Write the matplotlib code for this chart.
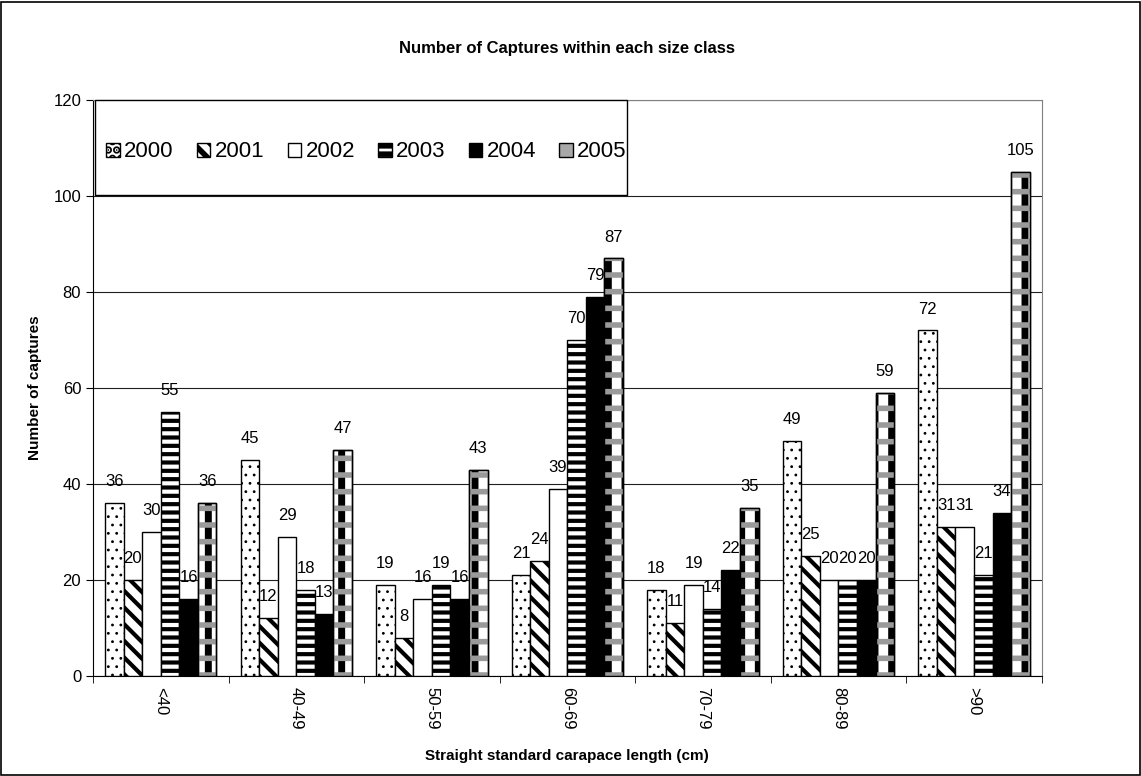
import matplotlib.pyplot as plt
from matplotlib.patches import Patch
import numpy as np

plt.rcParams['font.family'] = ['Liberation Sans', 'DejaVu Sans']

size_classes = ['<40', '40-49', '50-59', '60-69', '70-79', '80-89', '>90']
years = ['2000', '2001', '2002', '2003', '2004', '2005']

c2000 = [36, 45, 19, 21, 18, 49, 72]
c2001 = [20, 12, 8, 24, 11, 25, 31]
c2002 = [30, 29, 16, 39, 19, 20, 31]
c2003 = [55, 18, 19, 70, 14, 20, 21]
c2004 = [16, 13, 16, 79, 22, 20, 34]
c2005 = [36, 47, 43, 87, 35, 59, 105]
series = [c2000, c2001, c2002, c2003, c2004, c2005]

# fill / hatch for each year
styles = [
    dict(facecolor='white', hatch='..', hatch_lw=0.8),
    dict(facecolor='white', hatch='\\\\', hatch_lw=3.0),
    dict(facecolor='white', hatch='', hatch_lw=1.0),
    dict(facecolor='white', hatch='--', hatch_lw=3.0),
    dict(facecolor='black', hatch='', hatch_lw=1.0),
    dict(facecolor='white', hatch='|', hatch_lw=5.0),
]

fig = plt.figure(figsize=(11.41, 7.76), dpi=100)
ax = fig.add_axes([0.0815, 0.129, 0.8315, 0.742])

x = np.arange(len(size_classes))
w = 0.137
offsets = (np.arange(6) - 2.5) * w

handles = []
for i, (vals, off, st, yr) in enumerate(zip(series, offsets, styles, years)):
    plt.rcParams['hatch.linewidth'] = st['hatch_lw']
    b = ax.bar(x + off, vals, w, facecolor=st['facecolor'], edgecolor='black',
               linewidth=1.0, hatch=st['hatch'], label=yr, zorder=3)
    handles.append(b)
    if i == 5:
        # grey checker bands over the black stripe
        plt.rcParams['hatch.linewidth'] = 4.0
        ax.bar(x + off, vals, w, facecolor='none', edgecolor='#9a9a9a',
               linewidth=0, hatch='-', zorder=3.5)
        ax.bar(x + off, vals, w, facecolor='none', edgecolor='black',
               linewidth=1.0, zorder=3.6)
        handles[-1] = Patch(facecolor='#a8a8a8', edgecolor='black', label=yr)
    for rect, v in zip(b, vals):
        ax.annotate(str(v), (rect.get_x() + rect.get_width() / 2, v),
                    xytext=(0, 10), textcoords='offset points',
                    ha='center', va='bottom', fontsize=12, zorder=4)

ax.set_xlim(-0.5, len(size_classes) - 0.5)
ax.set_ylim(0, 120)
ax.set_yticks(range(0, 121, 20))
ax.yaxis.grid(True, color='#202020', linewidth=0.8, zorder=0)
ax.tick_params(axis='y', labelsize=12, direction='out', length=5)

ax.set_xticks(x)
ax.set_xticklabels(size_classes, rotation=270, fontsize=12)
ax.tick_params(axis='x', which='major', length=0, pad=8)
ax.set_xticks(np.arange(len(size_classes) + 1) - 0.5, minor=True)
ax.tick_params(axis='x', which='minor', length=5, direction='out')

for side in ['top', 'right']:
    ax.spines[side].set_color('#808080')

ax.set_xlabel('Straight standard carapace length (cm)', fontsize=11,
              fontweight='bold', labelpad=14)
ax.set_ylabel('Number of captures', fontsize=11, fontweight='bold', labelpad=8)
ax.set_title('Number of Captures within each size class', fontsize=12,
             fontweight='bold', pad=34)

leg = ax.legend(handles=handles, labels=years, loc='center left',
                bbox_to_anchor=(0.014, 0.91), ncol=6,
                fontsize=16, frameon=False, handlelength=0.6, handleheight=0.6,
                handletextpad=0.2, columnspacing=1.05, borderaxespad=0,
                borderpad=0)
leg.set_zorder(6)
ax.add_patch(plt.Rectangle((0.002, 0.835), 0.561, 0.165,
                           transform=ax.transAxes, facecolor='white',
                           edgecolor='black', linewidth=1.0, zorder=5,
                           clip_on=False))

fig.patches.append(plt.Rectangle((0.001, 0.001), 0.998, 0.997,
                                 transform=fig.transFigure, fill=False,
                                 edgecolor='black', linewidth=1.2))

fig.savefig('out.png', dpi=100)
